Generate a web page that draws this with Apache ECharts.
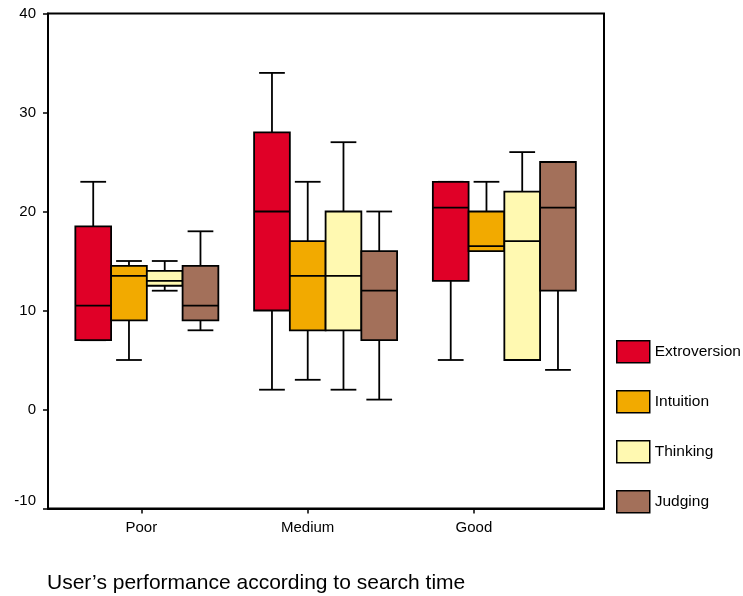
<!DOCTYPE html>
<html>
<head>
<meta charset="utf-8">
<script src="https://cdn.jsdelivr.net/npm/echarts@6/dist/echarts.min.js"></script>
<style>
html, body { margin: 0; padding: 0; background: #fff; }
#chart { width: 743px; height: 596px; }
</style>
</head>
<body>
<div id="chart"></div>
<script>
// groups along the x axis
const categories = ['Poor', 'Medium', 'Good']
const traits = ['Extroversion', 'Intuition', 'Thinking', 'Judging']
const colors = ['#E00027', '#F2AA00', '#FFF9B1', '#A3705A']
// per group: [min, q1, median, q3, max]
const extroversion = [[7, 7, 10.5, 18.5, 23], [2, 10, 20, 28, 34], [5, 13, 20.4, 23, 23]]
const intuition = [[5, 9, 13.5, 14.5, 15], [3, 8, 13.5, 17, 23], [16, 16, 16.5, 20, 23]]
const thinking = [[12, 12.5, 13, 14, 15], [2, 8, 13.5, 20, 27], [5, 5, 17, 22, 26]]
const judging = [[8, 9, 10.5, 14.5, 18], [1, 7, 12, 16, 20], [4, 12, 20.4, 25, 25]]
const yTicks = [-10, 0, 10, 20, 30, 40]

const traitData = [extroversion, intuition, thinking, judging]
const font = '"Liberation Sans", Arial, sans-serif'

function renderBox(params, api) {
  let x = api.value(0)
  let w = api.size([0.2, 0])[0]
  let off = (params.seriesIndex - 1.5) * w
  let lo = api.coord([x, api.value(1)])
  let q1 = api.coord([x, api.value(2)])
  let md = api.coord([x, api.value(3)])
  let q3 = api.coord([x, api.value(4)])
  let hi = api.coord([x, api.value(5)])
  let cx = lo[0] + off
  let cap = w * 0.36
  let line = { stroke: '#000', lineWidth: 1.8 }
  return {
    type: 'group',
    children: [
      { type: 'line', shape: { x1: cx, y1: hi[1], x2: cx, y2: lo[1] }, style: line },
      { type: 'line', shape: { x1: cx - cap, y1: hi[1], x2: cx + cap, y2: hi[1] }, style: line },
      { type: 'line', shape: { x1: cx - cap, y1: lo[1], x2: cx + cap, y2: lo[1] }, style: line },
      {
        type: 'rect',
        shape: { x: cx - w / 2, y: q3[1], width: w, height: q1[1] - q3[1] },
        style: { fill: api.visual('color'), stroke: '#000', lineWidth: 1.8 },
      },
      { type: 'line', shape: { x1: cx - w / 2, y1: md[1], x2: cx + w / 2, y2: md[1] }, style: line },
    ],
  }
}

let chart = echarts.init(document.getElementById('chart'))
chart.setOption({
  animation: false,
  title: {
    text: 'User\u2019s performance according to search time',
    left: 42,
    top: 568,
    textStyle: { fontSize: 21, fontWeight: 'normal', color: '#000', fontFamily: font },
  },
  legend: {
    orient: 'vertical',
    left: 611,
    top: 335,
    icon: 'rect',
    itemWidth: 33,
    itemHeight: 22,
    itemGap: 26.5,
    itemStyle: { borderColor: '#000', borderWidth: 1.5 },
    textStyle: { fontSize: 15.5, color: '#000', fontFamily: font },
    data: traits,
  },
  grid: {
    left: 48,
    right: 139,
    top: 13.5,
    bottom: 87.5,
    show: true,
    borderColor: '#000',
    borderWidth: 2,
    outerBoundsMode: 'none',
  },
  xAxis: [
    {
      type: 'value',
      min: 0.439,
      max: 3.782,
      axisLine: { onZero: false, lineStyle: { color: '#000', width: 2 } },
      axisTick: { customValues: [1, 2, 3], length: 5, lineStyle: { color: '#000', width: 1.5 } },
      axisLabel: {
        customValues: [1, 2, 3],
        formatter: v => categories[v - 1] || '',
        color: '#000',
        fontSize: 15,
        margin: 12,
        fontFamily: font,
      },
      splitLine: { show: false },
    },
    { type: 'value', min: 0.447, max: 3.5575, show: false },
  ],
  yAxis: {
    type: 'value',
    min: yTicks[0],
    max: yTicks[yTicks.length - 1],
    interval: 10,
    axisLine: { show: true, onZero: false, lineStyle: { color: '#000', width: 2 } },
    axisTick: { show: true, length: 5, lineStyle: { color: '#000', width: 1.5 } },
    axisLabel: { color: '#000', fontSize: 15, margin: 12, fontFamily: font, verticalAlignMinLabel: 'bottom' },
    splitLine: { show: false },
  },
  series: traits.map((name, s) => ({
    name: name,
    type: 'custom',
    xAxisIndex: 1,
    renderItem: renderBox,
    itemStyle: { color: colors[s] },
    encode: { x: 0, y: [1, 2, 3, 4, 5] },
    data: traitData[s].map((d, i) => [i + 1].concat(d)),
  })),
})
</script>
</body>
</html>
